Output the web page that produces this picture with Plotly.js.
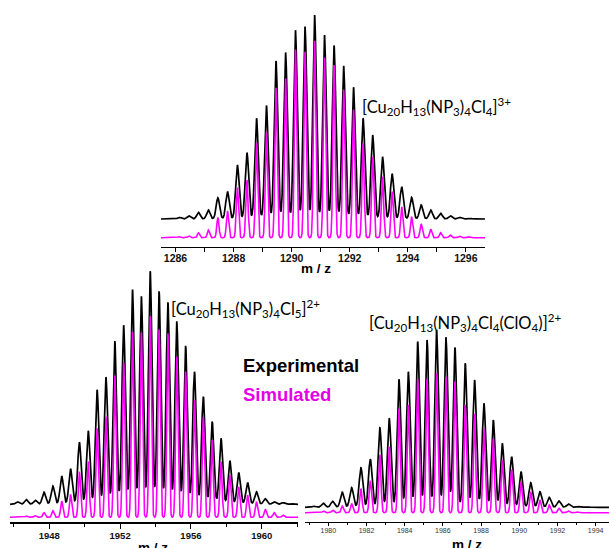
<!DOCTYPE html>
<html><head><meta charset="utf-8">
<script src="https://cdn.plot.ly/plotly-3.0.1.min.js"></script>
<style>html,body{margin:0;padding:0;background:#fff;overflow:hidden}#chart{width:609px;height:548px}</style>
</head><body><div id="chart"></div>
<script>
// ---------- DATA (intensities in % of each trace's maximum) ----------
// Top panel: [Cu20H13(NP3)4Cl4]3+
const topMz = [1286.13,1286.46,1286.79,1287.13,1287.46,1287.79,1288.13,1288.46,1288.79,1289.13,1289.46,1289.79,1290.13,1290.46,1290.79,1291.13,1291.46,1291.79,1292.13,1292.46,1292.79,1293.13,1293.46,1293.79,1294.13,1294.46,1294.79,1295.13,1295.46,1295.79,1296.13,1296.46];
const topExp = [0.8,1.5,3.3,4.4,10.4,13.4,26.5,32.5,49.4,55.7,77.5,81.7,92.6,94.3,100,90.2,85,75.1,64.6,49.4,41.2,30.5,22.1,15.8,10.6,6.9,4.4,2.8,1.6,0.8,0.5,0.15];
const topSim = [0.5,0.9,2.5,3.9,10.2,13.6,25.5,29.3,48.2,53.8,76.1,80.9,95.6,94.4,100,91.6,87.7,75.3,65.2,47.9,41.1,31,23.4,15.7,10.7,7,4.3,2.5,1.4,0.8,0.4,0.15];
// Bottom-left panel: [Cu20H13(NP3)4Cl5]2+
const blMz = [1946.2,1946.7,1947.2,1947.7,1948.2,1948.7,1949.2,1949.7,1950.2,1950.7,1951.2,1951.7,1952.2,1952.7,1953.2,1953.7,1954.2,1954.7,1955.2,1955.7,1956.2,1956.7,1957.2,1957.7,1958.2,1958.7,1959.2,1959.7,1960.2,1960.7,1961.2,1961.7];
const blExp = [1.1,2.1,1.8,5.2,7.9,12.1,15.2,26.6,31.5,49.1,54.5,70.1,76.8,92.1,89.3,100,91.4,86.7,78.5,68,56.9,46.2,35.5,28.3,18.7,13.6,9.3,5.4,2.4,1.1,0.7,0.4];
const blSim = [0.25,0.6,0.8,2.3,3.3,8.1,11.4,22.7,27.7,44.3,50.2,70.6,77.1,92.3,92,100,93.5,91.5,79.9,72.6,58.4,50,38.5,27.7,21,15.2,11.1,7.8,4,2.3,1.1,0.3];
// Bottom-right panel: [Cu20H13(NP3)4Cl4(ClO4)]2+
const brMz = [1979.25,1979.74,1980.23,1980.73,1981.22,1981.71,1982.2,1982.7,1983.19,1983.7,1984.19,1984.68,1985.17,1985.67,1986.16,1986.63,1987.17,1987.66,1988.15,1988.64,1989.11,1989.6,1990.09,1990.6,1991.08,1991.57,1992.08,1992.57,1993.06,1993.53];
const brExp = [0.6,2.3,3.4,8.5,11.1,22.3,27.2,44.9,50.2,72.2,76.5,93.4,94.4,100,95.9,90.2,81.2,71.8,58.7,49.2,36.1,28.5,20.1,13.9,8.8,5.6,3.6,1.9,0.7,0.3];
const brSim = [0.2,1.1,1.8,4.7,6.5,17.2,23,41.6,47.3,74.6,77.5,96.1,96.1,100,97.6,94,77.5,71,60.3,53.1,38,30.8,22.2,15.1,9.1,5.5,3.2,1.4,0.5,0.2];
// Labels
const topLabel = "[Cu<sub>20</sub>H<sub>13</sub>(NP<sub>3</sub>)<sub>4</sub>Cl<sub>4</sub>]<sup>3+</sup>";
const blLabel = "[Cu<sub>20</sub>H<sub>13</sub>(NP<sub>3</sub>)<sub>4</sub>Cl<sub>5</sub>]<sup>2+</sup>";
const brLabel = "[Cu<sub>20</sub>H<sub>13</sub>(NP<sub>3</sub>)<sub>4</sub>Cl<sub>4</sub>(ClO<sub>4</sub>)]<sup>2+</sup>";
const xTitle = "m / z";
const expName = "Experimental", simName = "Simulated";

// ---------- LAYOUT HELPERS ----------
const W = 609, H = 548;
const px = x => x / W, py = y => 1 - y / H;
const BLACK = "#000000", MAG = "#ff00ff";

// Line profile built from the peak list (sum of gaussian peaks)
function profile(pos, amp, sigma, x0, x1, step) {
  const xs = [], ys = [];
  const n = Math.round((x1 - x0) / step);
  for (let k = 0; k <= n; k++) {
    const x = x0 + k * step;
    let s = 0;
    for (let i = 0; i < pos.length; i++) {
      const d = (x - pos[i]) / sigma;
      if (d > -6 && d < 6) s += amp[i] * Math.exp(-0.5 * d * d);
    }
    xs.push(x); ys.push(s);
  }
  return { xs, ys };
}

const panels = [
  { mz: topMz, exp: topExp, sim: topSim, xr: [1285.5, 1296.66], xd: [161, 485], axY: 246.7,
    bBase: 219, bTop: 15, mBase: 237.7, mTop: 40.7, sb: 0.06, sm: 0.038, step: 0.004,
    dtick: 2, minor: 1, tf: { size: 10.5, weight: "bold", color: "#111" }, tl: 4, ml: 4, so: -3 },
  { mz: blMz, exp: blExp, sim: blSim, xr: [1945.78, 1962.05], xd: [10, 298], axY: 522,
    bBase: 504.3, bTop: 271.3, mBase: 517.3, mTop: 316.3, sb: 0.098, sm: 0.062, step: 0.006,
    dtick: 4, minor: 2, tf: { size: 9.5, weight: "bold", color: "#111" }, tl: 5, ml: 3, so: -1 },
  { mz: brMz, exp: brExp, sim: brSim, xr: [1978.78, 1994.70], xd: [305, 609], axY: 521.7,
    bBase: 507.3, bTop: 330, mBase: 512.7, mTop: 373.3, sb: 0.095, sm: 0.058, step: 0.006,
    dtick: 2, minor: 1, tf: { size: 7, weight: "normal", color: "#333" }, tl: 3, ml: 2, so: -2 }
];

const data = [];
const layout = {
  width: W, height: H, margin: { l: 0, r: 0, t: 0, b: 0 },
  paper_bgcolor: "#fff", plot_bgcolor: "rgba(0,0,0,0)", showlegend: false,
  font: { family: "Liberation Sans, Arial, sans-serif", color: "#000" },
  annotations: []
};
const PAD = 4;
panels.forEach((p, i) => {
  const xn = i === 0 ? "x" : "x" + (i + 1);
  const xk = i === 0 ? "xaxis" : "xaxis" + (i + 1);
  const yb = 2 * i + 1, ym = 2 * i + 2;
  const ybn = yb === 1 ? "y" : "y" + yb, ymn = "y" + ym;
  const ybk = yb === 1 ? "yaxis" : "yaxis" + yb, ymk = "yaxis" + ym;
  layout[xk] = {
    domain: [px(p.xd[0]), px(p.xd[1])], range: p.xr, anchor: "free", position: py(p.axY),
    showgrid: false, zeroline: false, showline: true, linecolor: "#000", linewidth: 1.5,
    ticks: "outside", ticklen: p.tl, tickwidth: 1, tickcolor: "#000", dtick: p.dtick, tick0: 0,
    ticklabelstandoff: p.so,
    tickfont: Object.assign({ family: "Liberation Sans, Arial, sans-serif" }, p.tf),
    minor: { dtick: p.minor, ticks: "outside", ticklen: p.ml, tickwidth: 1, tickcolor: "#000", showgrid: false },
    fixedrange: true
  };
  const mk = (base, top) => {
    const u = 100 / (base - top);
    return { domain: [py(base + PAD), py(top - PAD)], range: [-PAD * u, 100 + PAD * u],
             visible: false, anchor: xn, fixedrange: true };
  };
  layout[ybk] = mk(p.bBase, p.bTop);
  layout[ymk] = mk(p.mBase, p.mTop);
  const e = profile(p.mz, p.exp, p.sb, p.xr[0], p.xr[1], p.step);
  const s = profile(p.mz, p.sim, p.sm, p.xr[0], p.xr[1], p.step);
  data.push({ type: "scatter", mode: "lines", x: e.xs, y: e.ys, xaxis: xn, yaxis: ybn, name: expName,
              line: { color: BLACK, width: 1.7 }, hoverinfo: "skip" });
  data.push({ type: "scatter", mode: "lines", x: s.xs, y: s.ys, xaxis: xn, yaxis: ymn, name: simName,
              line: { color: MAG, width: 1.6 }, hoverinfo: "skip" });
});

const ann = (text, x, y, font, xa) => layout.annotations.push({
  text, x: px(x), y: py(y), xref: "paper", yref: "paper", xanchor: xa || "left", yanchor: "middle",
  showarrow: false, font
});
const fForm = { family: "Lato, Open Sans, sans-serif", size: 16.5, color: "#000" };
ann(topLabel, 360, 106, fForm);
ann(blLabel, 169, 308, fForm);
ann(brLabel, 367, 322, fForm);
ann(expName, 241, 365.5, { family: "Liberation Sans, Arial, sans-serif", size: 18.5, weight: "bold", color: "#000" });
ann(simName, 241, 394, { family: "Liberation Sans, Arial, sans-serif", size: 18.5, weight: "bold", color: "#e600e6" });
const fT = { family: "Liberation Sans, Arial, sans-serif", size: 13.5, weight: "bold", color: "#000" };
ann(xTitle, 316, 268, fT, "center");
ann(xTitle, 153, 547, fT, "center");
ann(xTitle, 467, 544, fT, "center");

Plotly.newPlot("chart", data, layout, { staticPlot: true, displayModeBar: false });
</script>
</body></html>
